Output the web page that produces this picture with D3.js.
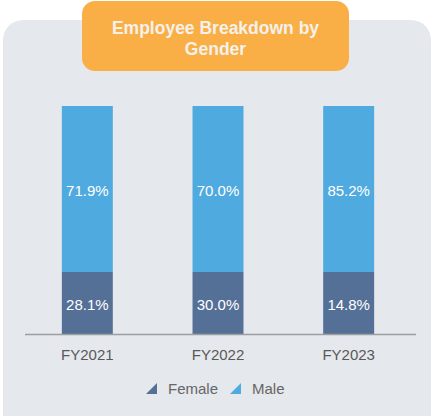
<!DOCTYPE html>
<html>
<head>
<meta charset="utf-8">
<script src="https://cdn.jsdelivr.net/npm/d3@7"></script>
<style>
  html, body { margin: 0; padding: 0; background: #ffffff; }
  svg { display: block; font-family: "Liberation Sans", Arial, sans-serif; }
</style>
</head>
<body>
<svg id="chart" width="432" height="416"></svg>
<script>
// data
const years = ["FY2021", "FY2022", "FY2023"];
const femaleLabels = [28.1, 30.0, 14.8];
const maleLabels = [71.9, 70.0, 85.2];
// segment heights as drawn in the source (bars are not drawn to label scale)
const femaleDrawn = [27.2, 27.2, 27.2];
const maleDrawn = [72.8, 72.8, 72.8];
const seriesNames = ["Female", "Male"];

const colors = { Female: "#557096", Male: "#4faadf" };

const svg = d3.select("#chart");

// panel background
svg.append("rect").attr("x", 3).attr("y", 20).attr("width", 428).attr("height", 416)
    .attr("rx", 20).attr("fill", "#e5e8ec");

// title box
svg.append("rect").attr("x", 82).attr("y", 1).attr("width", 267).attr("height", 70)
    .attr("rx", 13).attr("fill", "#f9af45");
const title = svg.append("text").attr("text-anchor", "middle").attr("fill", "#f4f1ec")
    .attr("font-size", "17.5px").attr("font-weight", "bold");
title.append("tspan").attr("x", 215.5).attr("y", 33.5).text("Employee Breakdown by");
title.append("tspan").attr("x", 215.5).attr("y", 54.5).text("Gender");

const x = d3.scaleBand().domain(years).range([22, 414]).paddingInner(0.61).paddingOuter(0.305);
const y = d3.scaleLinear().domain([0, 100]).range([334, 106]);

const rows = years.map((yr, i) => ({ year: yr, Female: femaleDrawn[i], Male: maleDrawn[i], fl: femaleLabels[i], ml: maleLabels[i] }));
const stacked = d3.stack().keys(seriesNames)(rows);

const bars = svg.append("g");
stacked.forEach(layer => {
    bars.selectAll(null).data(layer).enter().append("rect")
        .attr("x", d => x(d.data.year))
        .attr("width", x.bandwidth())
        .attr("y", d => y(d[1]))
        .attr("height", d => y(d[0]) - y(d[1]))
        .attr("fill", colors[layer.key]);
    bars.selectAll(null).data(layer).enter().append("text")
        .attr("x", d => x(d.data.year) + x.bandwidth() / 2)
        .attr("y", d => (y(d[0]) + y(d[1])) / 2 + 1.5)
        .attr("dy", "0.35em")
        .attr("text-anchor", "middle")
        .attr("fill", "#ffffff")
        .attr("font-size", "15px")
        .text(d => (layer.key === "Female" ? d.data.fl : d.data.ml).toFixed(1) + "%");
});

// x axis
const axis = svg.append("g").attr("transform", "translate(0,334)")
    .call(d3.axisBottom(x).tickSize(0).tickPadding(15));
axis.select(".domain").attr("stroke", "#9c9ea1").attr("stroke-width", 1.5).attr("d", "M25,0.5H416");
axis.selectAll("text").attr("fill", "#595959").attr("font-size", "15px")
    .attr("font-family", "'Liberation Sans', Arial, sans-serif");

// legend
const legendItems = [
    { name: "Female", tx: 146, lx: 168 },
    { name: "Male", tx: 230, lx: 252 }
];
const legend = svg.append("g");
legendItems.forEach(it => {
    legend.append("path")
        .attr("d", `M${it.tx},394L${it.tx + 11},394L${it.tx + 11},383Z`)
        .attr("fill", colors[it.name]);
    legend.append("text").attr("x", it.lx).attr("y", 389).attr("dy", "0.35em")
        .attr("fill", "#666666").attr("font-size", "15px").text(it.name);
});
</script>
</body>
</html>
